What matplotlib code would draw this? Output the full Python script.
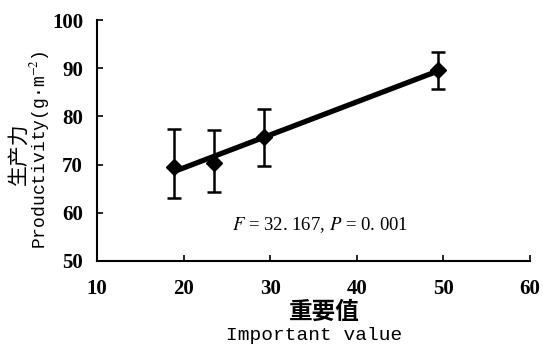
import matplotlib
matplotlib.use("Agg")
import matplotlib.pyplot as plt
import numpy as np

importance = [18.9, 23.5, 29.3, 49.4]
productivity = [69.6, 70.4, 75.8, 89.6]
err_upper = [77.4, 77.2, 81.5, 93.4]
err_lower = [63.1, 64.4, 69.8, 85.6]
xticks = [10, 20, 30, 40, 50, 60]
yticks = [50, 60, 70, 80, 90, 100]

plt.rcParams['mathtext.fontset'] = 'stix'

fig = plt.figure(figsize=(5.43, 3.52), dpi=100)
ax = fig.add_axes([97/543, 1-261/352, (530-97)/543, (261-20)/352])

x = np.array(importance)
y = np.array(productivity)
yerr = [y - np.array(err_lower), np.array(err_upper) - y]

# fitted regression line
slope, intercept = np.polyfit(x, y, 1)
xl = np.array([x.min(), x.max()])
ax.plot(xl, slope * xl + intercept, color='black', lw=3.8, solid_capstyle='butt', zorder=2)
ax.errorbar(x, y, yerr=yerr, fmt='D', color='black', ms=8, elinewidth=1.8,
            capsize=5, capthick=1.8, zorder=3)

ax.set_xlim(10, 60)
ax.set_ylim(50, 100)
ax.set_xticks(xticks)
ax.set_yticks(yticks)
ax.spines['top'].set_visible(False)
ax.spines['right'].set_visible(False)
ax.spines['left'].set_linewidth(1.5)
ax.spines['bottom'].set_linewidth(1.5)
ax.tick_params(axis='both', direction='in', length=4, width=1.2)
ax.tick_params(axis='x', pad=13)
ax.tick_params(axis='y', pad=10)
for lab in ax.get_xticklabels() + ax.get_yticklabels():
    lab.set_fontfamily('Liberation Serif')
    lab.set_fontweight('bold')
    lab.set_fontsize(15)

ax.text(35.8, 57.5, "$F$ = 32. 167, $P$ = 0. 001", family='Liberation Serif',
        fontsize=13.5, ha='center', va='center')

fig.text(19/543, 1-154/352, "生产力", family=['Noto Sans CJK SC', 'DejaVu Sans'],
         fontsize=15, rotation=90, ha='center', va='center')
fig.text(40/543, 1-150/352, "Productivity(g·m$^{-2}$)", family='Liberation Mono',
         fontsize=13, rotation=90, ha='center', va='center')
fig.text(324/543, 1-312/352, "重要值", family=['Noto Sans CJK SC', 'DejaVu Sans'],
         fontsize=17, fontweight='bold', ha='center', va='center')
fig.text(314/543, 1-335/352, "Important value", family='Liberation Mono',
         fontsize=14, ha='center', va='center')

fig.savefig("out.png", dpi=100)
